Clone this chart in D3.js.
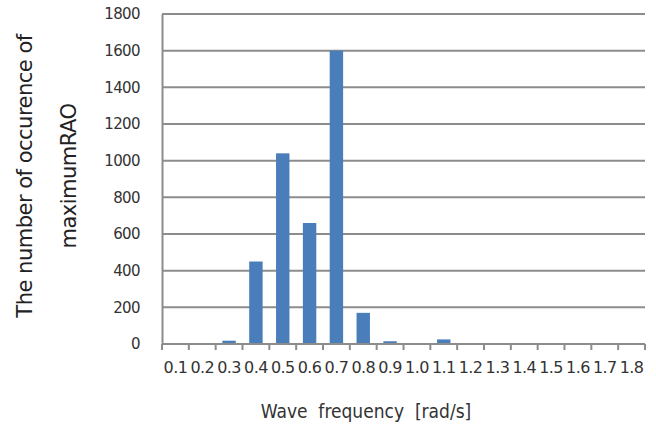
<!DOCTYPE html>
<html>
<head>
<meta charset="utf-8">
<script src="https://cdn.jsdelivr.net/npm/d3@7"></script>
<style>
  body { margin: 0; background: #fff; }
  text { font-family: "DejaVu Sans", sans-serif; }
</style>
</head>
<body>
<script>
// Data
const frequencies = ["0.1","0.2","0.3","0.4","0.5","0.6","0.7","0.8","0.9","1.0","1.1","1.2","1.3","1.4","1.5","1.6","1.7","1.8"];
const occurrences = [0, 0, 18, 450, 1040, 660, 1600, 170, 15, 0, 25, 0, 0, 0, 0, 0, 0, 0];
const yTicks = [0, 200, 400, 600, 800, 1000, 1200, 1400, 1600, 1800];

const width = 656, height = 432;
const margin = { left: 162, right: 11, top: 14, bottom: 88 };

const svg = d3.select("body").append("svg")
    .attr("width", width)
    .attr("height", height);

const x = d3.scaleBand()
    .domain(frequencies)
    .range([margin.left, width - margin.right])
    .paddingInner(0.5)
    .paddingOuter(0.25);

const y = d3.scaleLinear()
    .domain([0, 1800])
    .range([height - margin.bottom, margin.top]);

// gridlines
svg.append("g")
   .selectAll("line")
   .data(yTicks.filter(d => d > 0))
   .join("line")
   .attr("x1", margin.left)
   .attr("x2", width - margin.right)
   .attr("y1", d => y(d))
   .attr("y2", d => y(d))
   .attr("stroke", "#8c8c8c")
   .attr("stroke-width", 2);

// bars
svg.append("g")
   .selectAll("rect")
   .data(occurrences.map((v, i) => ({ f: frequencies[i], v })))
   .join("rect")
   .attr("x", d => x(d.f))
   .attr("width", x.bandwidth())
   .attr("y", d => y(d.v))
   .attr("height", d => y(0) - y(d.v))
   .attr("fill", "#4a7ebb");

// y axis
const yAxis = svg.append("g")
    .attr("transform", `translate(${margin.left},0)`)
    .call(d3.axisLeft(y).tickValues(yTicks).tickSize(0).tickPadding(22).tickFormat(d3.format("d")));
yAxis.select(".domain").attr("stroke", "#8c8c8c").attr("stroke-width", 2);
yAxis.selectAll("text")
   .attr("font-size", 15)
   .attr("letter-spacing", "-0.6px")
   .attr("fill", "#333");

// x axis with ticks at category boundaries
const step = x.step();
const boundaries = d3.range(frequencies.length + 1).map(i => margin.left + i * step);
const xAxis = svg.append("g");
xAxis.append("line")
    .attr("x1", margin.left).attr("x2", width - margin.right)
    .attr("y1", y(0)).attr("y2", y(0))
    .attr("stroke", "#8c8c8c").attr("stroke-width", 2);
xAxis.selectAll(".tick")
    .data(boundaries)
    .join("line")
    .attr("class", "tick")
    .attr("x1", d => d).attr("x2", d => d)
    .attr("y1", y(0)).attr("y2", y(0) + 6)
    .attr("stroke", "#8c8c8c").attr("stroke-width", 2);
xAxis.selectAll("text")
    .data(frequencies)
    .join("text")
    .attr("x", d => x(d) + x.bandwidth() / 2)
    .attr("y", y(0) + 29)
    .attr("text-anchor", "middle")
    .attr("font-size", 16)
    .attr("letter-spacing", "-0.6px")
    .attr("fill", "#333")
    .text(d => d);

// axis titles
svg.append("text")
   .attr("x", 366)
   .attr("y", 418)
   .attr("text-anchor", "middle")
   .style("font-family", "'DejaVu Sans Condensed', 'DejaVu Sans', sans-serif")
   .style("font-stretch", "condensed")
   .attr("font-size", 19)
   .attr("fill", "#333")
   .attr("xml:space", "preserve")
   .text("Wave  frequency  [rad/s]");

const yTitle = svg.append("g")
    .attr("transform", "translate(0,176) rotate(-90)");
yTitle.append("text")
   .attr("x", 0).attr("y", 32)
   .attr("text-anchor", "middle")
   .attr("font-size", 21)
   .attr("letter-spacing", "-0.5px")
   .attr("fill", "#222")
   .text("The number of occurence of");
yTitle.append("text")
   .attr("x", 0).attr("y", 76)
   .attr("text-anchor", "middle")
   .attr("font-size", 21)
   .attr("letter-spacing", "-0.5px")
   .attr("fill", "#222")
   .text("maximumRAO");
</script>
</body>
</html>
